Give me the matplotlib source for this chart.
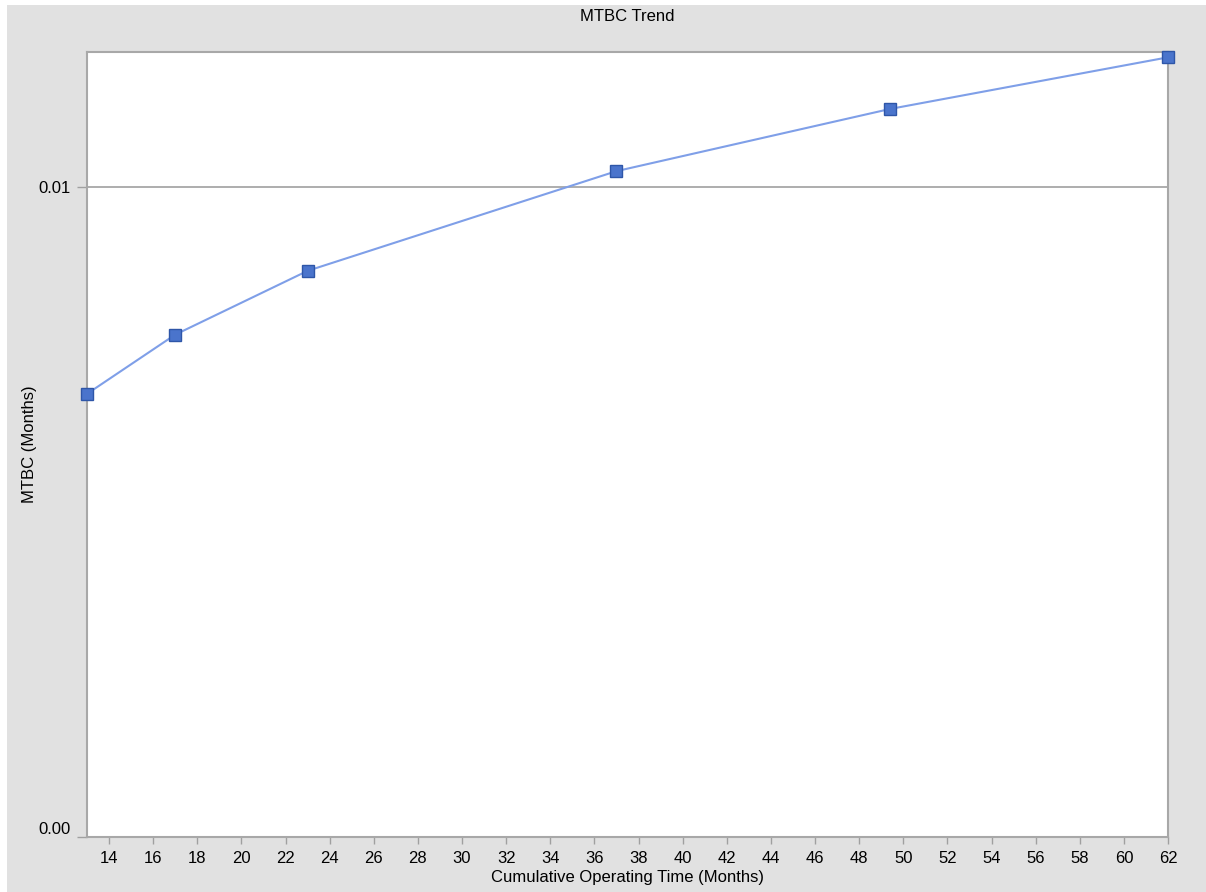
import matplotlib
matplotlib.use('Agg')
import matplotlib.pyplot as plt
from matplotlib.patches import Rectangle
from matplotlib.ticker import FixedLocator, FixedFormatter

# data
cum_time = [13.0, 17.0, 23.0, 37.0, 49.4, 62.0]
mtbc = [0.0048, 0.00592, 0.00742, 0.01056, 0.01316, 0.0158]
x_ticks = list(range(14, 63, 2))

plt.rcParams['font.family'] = ['Liberation Sans', 'DejaVu Sans']

fig = plt.figure(figsize=(12.06, 8.92), dpi=100)
fig.patch.set_facecolor('white')
# grey panel behind the chart
fig.patches.append(Rectangle((7 / 1206, 0), 1 - 7 / 1206, 1 - 5 / 892,
                             transform=fig.transFigure, facecolor='#e1e1e1',
                             edgecolor='none', zorder=-10))

ax = fig.add_axes([87 / 1206, 1 - 837 / 892, (1168 - 87) / 1206, (837 - 52) / 892])
ax.set_facecolor('white')

ax.plot(cum_time, mtbc, color='#7f9fe8', lw=1.5, marker='s', ms=8.5,
        mfc='#4a74cc', mec='#2e56a8', mew=1, clip_on=False, zorder=3)

ax.set_yscale('log')
ax.set_ylim(0.001, 0.0161)
ax.set_xlim(13, 62)
ax.yaxis.set_major_locator(FixedLocator([0.001, 0.01]))
ax.yaxis.set_major_formatter(FixedFormatter(['0.00', '0.01']))
ax.yaxis.set_minor_locator(FixedLocator([]))
ax.axhline(0.01, color='#a0a0a0', lw=1.2, zorder=1)

ax.set_xticks(x_ticks)
ax.set_xticklabels([str(t) for t in x_ticks])

for s in ax.spines.values():
    s.set_color('#a8a8a8')
    s.set_linewidth(1.5)

ax.tick_params(axis='x', direction='out', length=5, width=1, color='#a0a0a0',
               labelsize=12, pad=5)
ax.tick_params(axis='y', direction='out', length=7, width=1, color='#a0a0a0',
               labelsize=12, pad=5)
ax.get_yticklabels()[0].set_verticalalignment('bottom')

ax.set_title('MTBC Trend', fontsize=12, pad=22)
ax.set_xlabel('Cumulative Operating Time (Months)', fontsize=12, labelpad=3)
ax.set_ylabel('MTBC (Months)', fontsize=12, labelpad=1)

plt.savefig('out.png', dpi=100, facecolor=fig.get_facecolor())
